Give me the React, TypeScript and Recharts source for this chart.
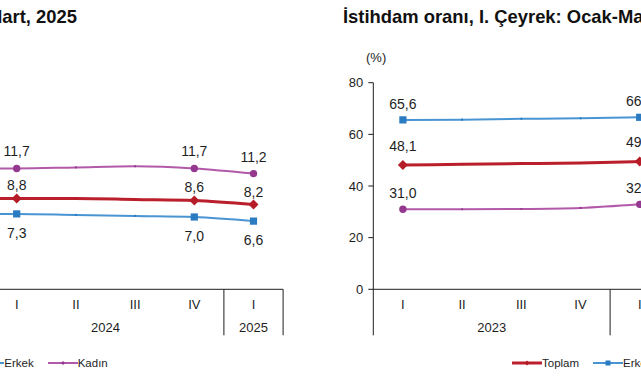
import React from 'react';
import { LineChart, Line, XAxis, YAxis, Legend, LabelList } from 'recharts';

const quarters = ['I', 'II', 'III', 'IV', 'I', 'II', 'III', 'IV', 'I'];
const years = ['2023', '2023', '2023', '2023', '2024', '2024', '2024', '2024', '2025'];
// points that carry a marker and a value label
const markedIdx = [0, 4, 7, 8];

// İşsizlik oranı (left panel, the 2023 part is cut off in the picture)
const issizlikToplam = [null, null, null, 8.8, 8.8, 8.8, 8.7, 8.6, 8.2];
const issizlikErkek = [null, null, null, 7.3, 7.3, 7.2, 7.1, 7.0, 6.6];
const issizlikKadin = [null, null, null, 11.7, 11.7, 11.8, 11.9, 11.7, 11.2];
const issizlikTicks = [0, 5, 10, 15, 20];

// İstihdam oranı (right panel, everything after 2024 I is cut off)
const istihdamToplam = [48.1, 48.4, 48.7, 48.9, 49.5, null, null, null, null];
const istihdamErkek = [65.6, 65.7, 66.0, 66.2, 66.6, null, null, null, null];
const istihdamKadin = [31.0, 31.0, 31.1, 31.5, 32.9, null, null, null, null];
const istihdamTicks = [0, 20, 40, 60, 80];

const seriesOrder = ['toplam', 'erkek', 'kadin'];
const seriesNames: any = { toplam: 'Toplam', erkek: 'Erkek', kadin: 'Kadın' };

const FONT = '"Liberation Sans", Arial, Helvetica, sans-serif';
const INK = '#1e1e1e';

const COLORS: any = {
  toplam: { line: '#bb1f2b', mark: '#b51c28', width: 3 },
  erkek: { line: '#4995d3', mark: '#2a7bc1', width: 2 },
  kadin: { line: '#b259aa', mark: '#94398f', width: 2 },
};

const CHART_W = 600;
const CHART_H = 380;
const Y_W = 40;
const MARGIN = { top: 82.7, left: 3.3, right: 23.9, bottom: 40.7 };
const PLOT_W = CHART_W - MARGIN.left - MARGIN.right - Y_W;
const HALF = PLOT_W / quarters.length / 2;

const fmt = (v: number) => v.toFixed(1).replace('.', ',');

const buildRows = (t: any[], e: any[], k: any[]) =>
  quarters.map((q, i) => ({ key: `${years[i]}-${q}-${i}`, toplam: t[i], erkek: e[i], kadin: k[i] }));

const issizlikRows = buildRows(issizlikToplam, issizlikErkek, issizlikKadin);
const istihdamRows = buildRows(istihdamToplam, istihdamErkek, istihdamKadin);

const Marker = ({ kind, cx, cy, big }: any) => {
  const c = COLORS[kind].mark;
  if (!big) return <circle cx={cx} cy={cy} r={1.1} fill={c} />;
  if (kind === 'toplam')
    return <polygon points={`${cx},${cy - 5} ${cx + 5},${cy} ${cx},${cy + 5} ${cx - 5},${cy}`} fill={c} />;
  if (kind === 'erkek') return <rect x={cx - 3.6} y={cy - 3.6} width={7.2} height={7.2} fill={c} />;
  return <circle cx={cx} cy={cy} r={3.7} fill={c} />;
};

const makeDot = (kind: string) => (p: any) => {
  if (p.value == null || p.cy == null || isNaN(p.cy)) return <g key={`${kind}-${p.index}`} />;
  return (
    <g key={`${kind}-${p.index}`}>
      <Marker kind={kind} cx={p.cx} cy={p.cy} big={markedIdx.includes(p.index)} />
    </g>
  );
};

const makeLabel = (dy: number) => (p: any) => {
  const vb = p.viewBox || {};
  const x = p.x ?? vb.x;
  const y = p.y ?? vb.y;
  if (p.value == null || !markedIdx.includes(p.index) || y == null) return null;
  return (
    <text x={x} y={y + dy} textAnchor="middle" dominantBaseline="central" fontSize={14} fill={INK} fontFamily={FONT}>
      {fmt(Number(p.value))}
    </text>
  );
};

// two-level category axis: quarter, then year with separators
const QuarterTick = (props: any) => {
  const { x, y, index } = props;
  const first = index === 0 || years[index] !== years[index - 1];
  const lastOfAll = index === years.length - 1;
  let n = 1;
  while (first && index + n < years.length && years[index + n] === years[index]) n++;
  return (
    <g>
      <text x={x} y={y + 15} textAnchor="middle" dominantBaseline="central" fontSize={13} fill={INK} fontFamily={FONT}>
        {quarters[index]}
      </text>
      {first && <line x1={x - HALF} x2={x - HALF} y1={y} y2={y + 46} stroke={INK} strokeWidth={1} />}
      {lastOfAll && <line x1={x + HALF} x2={x + HALF} y1={y} y2={y + 46} stroke={INK} strokeWidth={1} />}
      {first && (
        <text x={x + (n - 1) * HALF} y={y + 38} textAnchor="middle" dominantBaseline="central" fontSize={13} fill={INK} fontFamily={FONT}>
          {years[index]}
        </text>
      )}
    </g>
  );
};

const LegendContent = ({ payload }: any) => {
  const items = [...(payload || [])].sort(
    (a: any, b: any) => seriesOrder.indexOf(a.dataKey) - seriesOrder.indexOf(b.dataKey)
  );
  return (
    <div style={{ display: 'flex', alignItems: 'center', fontSize: 11.5, lineHeight: '14px', color: INK, fontFamily: FONT }}>
      {items.map((p: any) => {
        const kind = p.dataKey as string;
        const c = COLORS[kind];
        return (
          <div key={kind} style={{ display: 'flex', alignItems: 'center', marginRight: 14 }}>
            <svg width={30} height={10} style={{ display: 'block' }}>
              <line x1={0} x2={30} y1={5} y2={5} stroke={c.line} strokeWidth={c.width} />
              {kind === 'erkek' && <rect x={12.5} y={2.5} width={5} height={5} fill={c.mark} />}
              {kind === 'toplam' && <polygon points="15,2.5 17.5,5 15,7.5 12.5,5" fill={c.mark} />}
              {kind === 'kadin' && <polygon points="15,3 17,5 15,7 13,5" fill={c.mark} />}
            </svg>
            <span>{p.value}</span>
          </div>
        );
      })}
    </div>
  );
};

const Panel = ({ left, rows, domain, ticks, offsets, legendLeft }: any) => (
  <div style={{ position: 'absolute', left, top: 0, width: CHART_W, height: CHART_H }}>
    <div style={{ position: 'absolute', left: 36, top: 50, fontSize: 13, lineHeight: '15px', color: INK }}>(%)</div>
    <LineChart width={CHART_W} height={CHART_H} data={rows} margin={MARGIN}>
      <XAxis
        dataKey="key"
        scale="band"
        interval={0}
        tickSize={0}
        tickMargin={0}
        tickLine={false}
        height={50}
        stroke={INK}
        tick={<QuarterTick />}
      />
      <YAxis
        width={Y_W}
        domain={domain}
        ticks={ticks}
        interval={0}
        tickSize={5}
        tickMargin={5}
        stroke={INK}
        tick={{ fontSize: 13, fill: INK, fontFamily: FONT }}
      />
      <Legend
        verticalAlign="middle"
        itemSorter={null as any}
        content={<LegendContent />}
        wrapperStyle={{ left: legendLeft, top: 356, width: 'auto', height: 'auto' }}
      />
      {seriesOrder.map((k) => (
        <Line
          key={k}
          type="monotone"
          dataKey={k}
          name={seriesNames[k]}
          stroke={COLORS[k].line}
          strokeWidth={COLORS[k].width}
          dot={makeDot(k)}
          activeDot={false}
          isAnimationActive={false}
        >
          <LabelList dataKey={k} content={makeLabel(offsets[k])} />
        </Line>
      ))}
    </LineChart>
  </div>
);

const titleStyle: any = {
  position: 'absolute',
  top: 7,
  fontSize: 18.4,
  fontWeight: 'bold',
  lineHeight: '20px',
  whiteSpace: 'nowrap',
  color: '#111',
};

export default function App() {
  return (
    <div
      style={{
        position: 'fixed',
        left: 0,
        top: 0,
        width: 641,
        height: 380,
        overflow: 'hidden',
        background: '#fff',
        fontFamily: FONT,
      }}
    >
      <div style={{ ...titleStyle, right: 564 }}>İşsizlik oranı, I. Çeyrek: Ocak-Mart, 2025</div>
      <div style={{ ...titleStyle, left: 343 }}>İstihdam oranı, I. Çeyrek: Ocak-Mart, 2025</div>
      <Panel
        left={-292.8}
        rows={issizlikRows}
        domain={[0, 20]}
        ticks={issizlikTicks}
        offsets={{ toplam: -13, erkek: 19, kadin: -17 }}
        legendLeft={186}
      />
      <Panel
        left={330}
        rows={istihdamRows}
        domain={[0, 80]}
        ticks={istihdamTicks}
        offsets={{ toplam: -19, erkek: -16, kadin: -16 }}
        legendLeft={182}
      />
    </div>
  );
}
